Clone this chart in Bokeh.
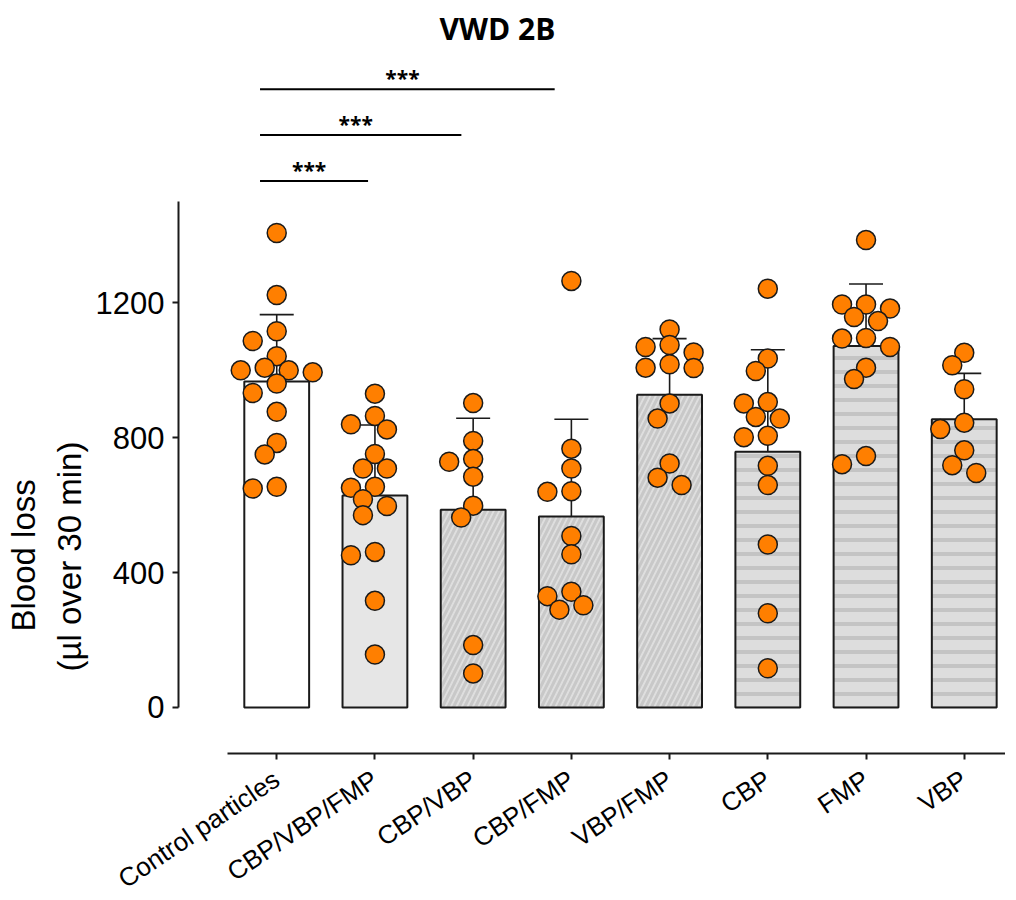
import math
from bokeh.plotting import figure
from bokeh.models import ColumnDataSource, Range1d, FixedTicker, Whisker, TeeHead, Title
from bokeh.core.properties import value
from bokeh.embed import file_html
from bokeh.resources import INLINE

# ---------------- data ----------------
title_text = "VWD 2B"
y_label = "Blood loss\n(µl over 30 min)"
categories = ["Control particles", "CBP/VBP/FMP", "CBP/VBP", "CBP/FMP",
              "VBP/FMP", "CBP", "FMP", "VBP"]
means = [966, 628, 586, 566, 927, 758, 1071, 854]
sd_upper = [1164, 837, 857, 854, 1093, 1060, 1255, 990]
y_ticks = [0, 400, 800, 1200]

control = [1406, 1222, 1115, 1086, 1041, 1007, 993, 999, 999, 960, 932, 876, 784, 750, 649, 654]
cbp_vbp_fmp = [930, 864, 824, 839, 751, 708, 708, 651, 654, 617, 597, 570, 451, 461, 316, 157]
cbp_vbp = [902, 790, 728, 736, 684, 598, 563, 185, 101]
cbp_fmp = [1264, 767, 708, 639, 641, 508, 454, 343, 330, 290, 303]
vbp_fmp = [1120, 1068, 1074, 1052, 1006, 1017, 1007, 901, 856, 723, 681, 659]
cbp = [1241, 1034, 997, 901, 905, 856, 861, 805, 801, 716, 659, 483, 279, 116]
fmp = [1385, 1194, 1182, 1194, 1157, 1145, 1093, 1095, 1068, 1007, 973, 745, 721]
vbp = [1051, 1014, 943, 825, 844, 762, 695, 718]
points = [control, cbp_vbp_fmp, cbp_vbp, cbp_fmp, vbp_fmp, cbp, fmp, vbp]

comparisons = [("Control particles", "CBP/VBP/FMP", "***"),
               ("Control particles", "CBP/VBP", "***"),
               ("Control particles", "CBP/FMP", "***")]

# ---------------- styles ----------------
bar_style = {
    "Control particles": ("white", " ", "#c6c6c6"),
    "CBP/VBP/FMP": ("#e6e6e6", " ", "#c6c6c6"),
    "CBP/VBP": ("#dedede", "/", "#c8c8c8"),
    "CBP/FMP": ("#dedede", "/", "#c8c8c8"),
    "VBP/FMP": ("#dedede", "/", "#c8c8c8"),
    "CBP": ("#dddddd", "-", "#c4c4c4"),
    "FMP": ("#dddddd", "-", "#c4c4c4"),
    "VBP": ("#dddddd", "-", "#c4c4c4"),
}
ORANGE = "#ff7f00"
INK = "#1a1a1a"
PX_X = 98.24            # pixels per category
PX_Y = 0.3375           # pixels per µl
X_START, X_END = -0.5, 7.92
Y_START, Y_END = -136.3, 1937.8
FRAME_W = round((X_END - X_START) * PX_X)
FRAME_H = round((Y_END - Y_START) * PX_Y)
DOT = 19


def swarm(vals, step=12.0, min_d=15.5):
    """simple beeswarm: horizontal offsets (in data units) so dots do not pile up"""
    placed, offs = [], [0.0] * len(vals)
    cands = [0]
    for j in range(1, 10):
        cands += [-j, j]
    for i in sorted(range(len(vals)), key=lambda k: -vals[k]):
        y = vals[i] * PX_Y
        ox = 0.0
        for c in cands:
            ox = c * step
            if all((ox - px) ** 2 + (y - py) ** 2 >= min_d ** 2 for px, py in placed):
                break
        placed.append((ox, y))
        offs[i] = ox / PX_X
    return offs


xc = [i + 0.5 for i in range(len(categories))]
bars = ColumnDataSource(dict(
    x=xc, top=means, upper=sd_upper, cat=categories,
    fill=[bar_style[c][0] for c in categories],
    hatch=[bar_style[c][1] for c in categories],
    hatch_color=[bar_style[c][2] for c in categories],
    hatch_scale=[11 if bar_style[c][1] == "/" else 14 for c in categories],
    hatch_weight=[3 if bar_style[c][1] == "/" else 4 for c in categories],
))

px, py = [], []
for i, vals in enumerate(points):
    offs = swarm(vals)
    px += [xc[i] + o for o in offs]
    py += vals
dots = ColumnDataSource(dict(x=px, y=py))

p = figure(frame_width=FRAME_W, frame_height=FRAME_H,
           x_range=Range1d(X_START, X_END), y_range=Range1d(Y_START, Y_END),
           output_backend="svg", toolbar_location=None,
           min_border_left=173, min_border_right=0, min_border_top=47,
           min_border_bottom=60)
p.outline_line_color = None
p.xgrid.visible = False
p.ygrid.visible = False
p.background_fill_color = "white"
p.border_fill_color = "white"

p.title.text = title_text
p.title.align = "left"
p.title.offset = 261
p.title.text_font = "Open Sans"
p.title.text_font_size = "30px"
p.title.text_font_style = "bold"
p.title.text_color = "black"

p.vbar(x="x", width=0.66, top="top", bottom=0, source=bars,
       fill_color="fill", line_color=INK, line_width=2,
       hatch_pattern="hatch", hatch_color="hatch_color",
       hatch_scale="hatch_scale", hatch_weight="hatch_weight")

w = Whisker(base="x", lower="top", upper="upper", source=bars, dimension="height",
            line_color=INK, line_width=1.6, lower_head=None,
            upper_head=TeeHead(size=34, line_width=1.6, line_color=INK),
            level="underlay")
p.add_layout(w)

p.scatter(x="x", y="y", source=dots, size=DOT, fill_color=ORANGE,
          line_color=INK, line_width=1.5)

# significance brackets
for k, (a, b, star) in enumerate(comparisons):
    ia, ib = categories.index(a), categories.index(b)
    ylev = 1560 + 136 * k
    x0 = xc[ia] - 0.17
    x1 = xc[ib] - 0.07 - 0.05 * k
    p.line(x=[x0, x1], y=[ylev, ylev], line_color="black", line_width=2)
    p.text(x=[(x0 + x1) / 2 - 0.05], y=[ylev], text=[star], text_align="center",
           text_baseline="alphabetic", y_offset=-11,
           text_font=value("Open Sans"), text_font_style="bold",
           text_font_size="21px", text_color="black")

# y-axis title (two lines), placed lower than the frame centre as in the reference
line1, line2 = y_label.split("\n")
for txt, off, sd in [(line2, 82, 10), (line1, 122, 4)]:
    p.add_layout(Title(text=txt, align="left", offset=off, standoff=sd,
                       text_font="Liberation Sans", text_font_size="33px",
                       text_font_style="normal", text_color="black"), "left")

# axes
ya = p.yaxis[0]
ya.ticker = FixedTicker(ticks=y_ticks)
ya.bounds = (0, 1500)
ya.major_label_text_font = "Liberation Sans"
ya.major_label_text_font_size = "31px"
ya.major_label_text_color = "black"
ya.major_label_standoff = 8
ya.axis_line_width = 2
ya.axis_line_color = INK
ya.major_tick_line_width = 2
ya.major_tick_line_color = INK
ya.major_tick_out = 6
ya.major_tick_in = 0
ya.minor_tick_line_color = None

xa = p.xaxis[0]
xa.ticker = FixedTicker(ticks=xc)
xa.major_label_overrides = {x: c for x, c in zip(xc, categories)}
xa.bounds = (0, len(categories))
xa.major_label_orientation = math.radians(34)
xa.major_label_text_font = "Liberation Sans"
xa.major_label_text_font_size = "26px"
xa.major_label_text_color = "black"
xa.major_label_standoff = 17
xa.axis_line_width = 2
xa.axis_line_color = INK
xa.major_tick_line_width = 2
xa.major_tick_line_color = INK
xa.major_tick_out = 6
xa.major_tick_in = 0
xa.minor_tick_line_color = None

open("out.html", "w").write(file_html(p, INLINE))
